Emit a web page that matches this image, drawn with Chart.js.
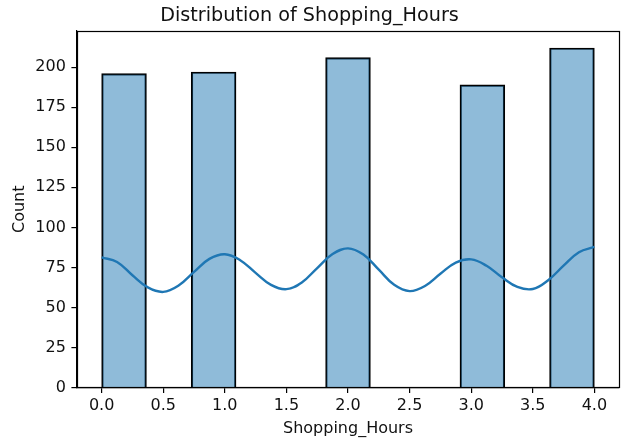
<!DOCTYPE html>
<html>
<head>
<meta charset="utf-8">
<script src="https://cdn.jsdelivr.net/npm/chart.js@4.4.1/dist/chart.umd.min.js"></script>
<style>
  html, body { margin: 0; padding: 0; background: #fff; }
  #wrap { width: 622px; height: 440px; }
</style>
</head>
<body>
<div id="wrap"><canvas id="c" width="622" height="440"></canvas></div>
<script>
// Histogram of Shopping_Hours: 11 equal bins spanning 0..4
const histStart = 0;
const histEnd = 4;
const binCount = 11;
const binCounts = [196, 0, 197, 0, 0, 206, 0, 0, 189, 0, 212];

// Kernel density estimate, scaled to counts
const kdeX = [0, 0.125, 0.25, 0.375, 0.5, 0.625, 0.75, 0.875,
              1.0, 1.125, 1.25, 1.375, 1.5, 1.625, 1.75, 1.875,
              2.0, 2.125, 2.25, 2.375, 2.5, 2.625, 2.75, 2.875,
              3.0, 3.125, 3.25, 3.375, 3.5, 3.625, 3.75, 3.875, 4.0];
const kdeY = [81.2, 78.4, 70.1, 62.5, 59.7, 63.7, 72.2, 80.3,
              83.2, 79.5, 71.6, 64.1, 61.4, 65.6, 74.6, 83.3,
              86.9, 83.0, 73.6, 64.1, 60.2, 63.4, 71.0, 78.0,
              80.0, 76.0, 68.8, 62.8, 61.5, 67.0, 76.1, 84.5, 87.8];

// Tick labels
const xTickValues = [0, 0.5, 1.0, 1.5, 2.0, 2.5, 3.0, 3.5, 4.0];
const yTickValues = [0, 25, 50, 75, 100, 125, 150, 175, 200];

const binWidth = (histEnd - histStart) / binCount;
const barPoints = binCounts.map((c, i) => ({ x: histStart + (i + 0.5) * binWidth, y: c }));
const kdePoints = kdeX.map((x, i) => ({ x: x, y: kdeY[i] }));

const FONT = 'DejaVu Sans';
const TEXT = '#111';

// Draws the four-sided axes frame around the plot area
const framePlugin = {
  id: 'frame',
  afterDraw(chart) {
    const { ctx, chartArea: a } = chart;
    ctx.save();
    ctx.strokeStyle = '#000';
    ctx.lineWidth = 1.2;
    ctx.strokeRect(Math.round(a.left) + 0.5, Math.round(a.top) + 0.5,
                   Math.round(a.right - a.left), Math.round(a.bottom - a.top));
    ctx.restore();
  }
};

const tickGrid = {
  display: true,
  offset: false,
  drawOnChartArea: false,
  drawTicks: true,
  tickLength: 5.6,
  color: '#000',
  lineWidth: 1.2
};

new Chart(document.getElementById('c'), {
  type: 'bar',
  data: {
    datasets: [
      {
        type: 'line',
        data: kdePoints,
        borderColor: '#1f77b4',
        borderWidth: 2.4,
        pointRadius: 0,
        fill: false,
        tension: 0.4,
        order: 0
      },
      {
        type: 'bar',
        data: barPoints,
        backgroundColor: 'rgba(31,119,180,0.5)',
        borderColor: '#000',
        borderWidth: 1.5,
        borderSkipped: 'start',
        barPercentage: 1,
        categoryPercentage: 1,
        order: 1
      }
    ]
  },
  options: {
    responsive: false,
    animation: false,
    layout: { padding: { left: 0, right: 3, top: 0, bottom: 0 } },
    plugins: {
      legend: { display: false },
      tooltip: { enabled: false },
      title: {
        display: true,
        text: 'Distribution of Shopping_Hours',
        color: TEXT,
        font: { family: FONT, size: 19.2, weight: 'normal' },
        padding: { top: 4, bottom: 4 }
      }
    },
    scales: {
      x: {
        type: 'linear',
        min: -0.2,
        max: 4.2,
        offset: false,
        afterBuildTicks: s => { s.ticks = xTickValues.map(v => ({ value: v })); },
        afterFit: s => { s.height = 52.5; },
        ticks: {
          color: TEXT,
          font: { family: FONT, size: 16 },
          padding: 3,
          maxRotation: 0,
          autoSkip: false,
          callback: v => Number(v).toFixed(1)
        },
        grid: tickGrid,
        border: { display: true, color: '#000', width: 1.2 },
        title: {
          display: true,
          text: 'Shopping_Hours',
          color: TEXT,
          font: { family: FONT, size: 16 },
          padding: { top: 0, bottom: 2 }
        }
      },
      y: {
        type: 'linear',
        min: 0,
        max: 222.6,
        afterBuildTicks: s => { s.ticks = yTickValues.map(v => ({ value: v })); },
        afterFit: s => { s.width = 77; },
        ticks: {
          color: TEXT,
          font: { family: FONT, size: 16 },
          padding: 5.5,
          autoSkip: false
        },
        grid: tickGrid,
        border: { display: true, color: '#000', width: 1.2 },
        title: {
          display: true,
          text: 'Count',
          color: TEXT,
          font: { family: FONT, size: 16 },
          padding: { top: 10, bottom: 0 }
        }
      }
    }
  },
  plugins: [framePlugin]
});
</script>
</body>
</html>
